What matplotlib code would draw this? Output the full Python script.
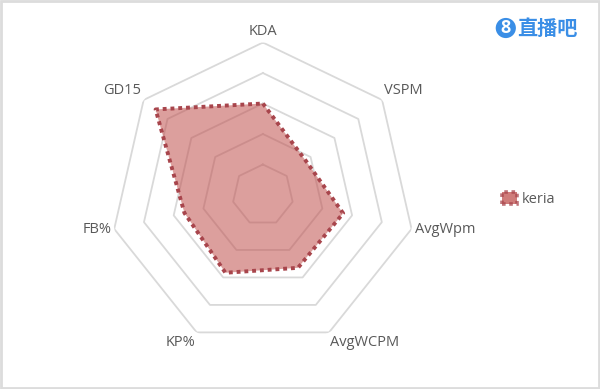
import numpy as np
import matplotlib.pyplot as plt
from matplotlib.patches import Patch, Rectangle

# data (ring units, 0-5)
labels = ['KDA', 'VSPM', 'AvgWpm', 'AvgWCPM', 'KP%', 'FB%', 'GD15']
keria = [3.0, 1.8, 2.7, 2.65, 2.83, 2.64, 4.5]
rings = [1, 2, 3, 4, 5]

grid_color = '#D9D9D9'
fill_color = '#C0504D'
edge_color = '#A8454C'
text_color = '#595959'

plt.rcParams['font.family'] = ['Open Sans', 'DejaVu Sans']

fig = plt.figure(figsize=(6, 3.89), dpi=100)
ax = fig.add_axes([0.184, 0.1067, 0.5083, 0.784], projection='polar')
ax.set_theta_offset(np.pi / 2)
ax.set_theta_direction(-1)

n = len(labels)
theta = np.linspace(0, 2 * np.pi, n, endpoint=False)
theta_c = np.append(theta, theta[0])

# heptagon grid
for r in rings:
    ax.plot(theta_c, [r] * (n + 1), color=grid_color, lw=1.3, zorder=1)

vals = np.append(keria, keria[0])
ax.fill(theta_c, vals, color=fill_color, alpha=0.55, lw=0, zorder=2)
ax.plot(theta_c, vals, color=edge_color, lw=2.8, ls=(0, (1, 1)),
        dash_capstyle='butt', zorder=3)

ax.set_ylim(0, 5)
ax.set_xticks([])
ax.set_yticks([])
ax.grid(False)
ax.spines['polar'].set_visible(False)
ax.set_facecolor('none')

# axis labels
for t, lab in zip(theta, labels):
    sx, sy = np.sin(t), np.cos(t)
    ha = 'center' if abs(sx) < 0.1 else ('left' if sx > 0 else 'right')
    if sy > 0.5:
        va = 'bottom'
    elif sy < -0.5:
        va = 'top'
    else:
        va = 'center'
    ax.text(t, 5.1, lab, ha=ha, va=va, fontsize=10.5, color=text_color)

# legend
h = Patch(facecolor=fill_color, alpha=0.75, edgecolor=edge_color, lw=2.6,
          ls=(0, (1, 1)))
leg = fig.legend([h], ['keria'], loc='center left', bbox_to_anchor=(0.815, 0.488),
                 frameon=False, fontsize=10.5, handlelength=1.0, handleheight=0.9,
                 handletextpad=0.35)
for txt in leg.get_texts():
    txt.set_color(text_color)

# watermark logo
fig.text(0.843, 0.928, '8', ha='center', va='center', fontsize=13,
         fontweight='bold', color='white',
         bbox=dict(boxstyle='circle,pad=0.06', fc='#3A8EE6', ec='none'))
fig.text(0.862, 0.926, '直播吧', ha='left', va='center', fontsize=14.5,
         fontweight='bold', color='#3A8EE6',
         family=['Noto Sans CJK SC', 'DejaVu Sans'])

# outer frame
fig.patches.append(Rectangle((0.002, 0.003), 0.996, 0.994, transform=fig.transFigure,
                             fill=False, ec='#DCDCDC', lw=2.0))

fig.savefig('out.png', dpi=100)
